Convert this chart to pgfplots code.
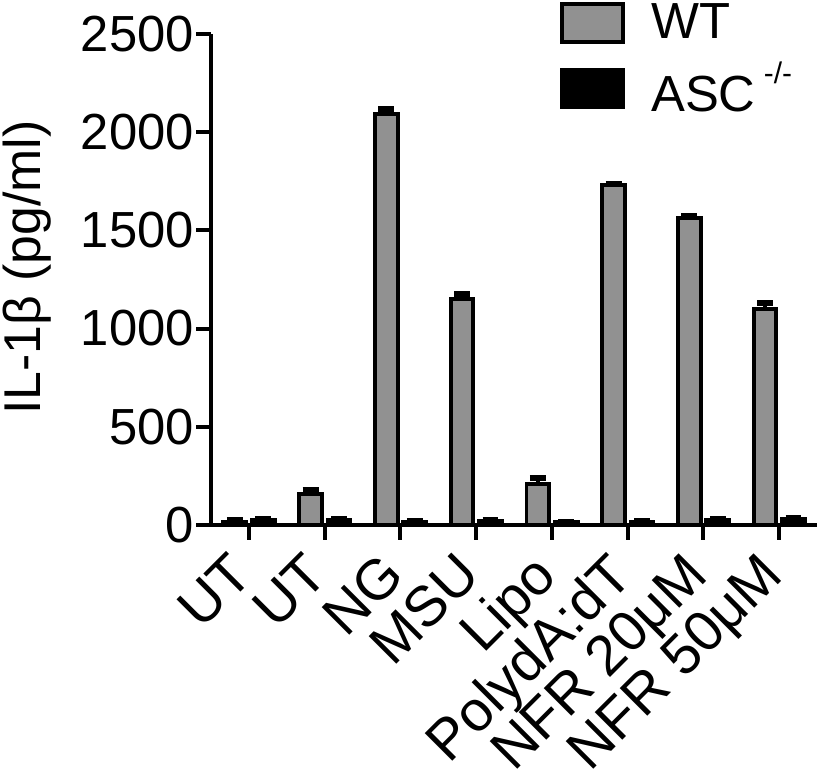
\documentclass[border=0pt]{standalone}
\usepackage{fontspec}
\setmainfont{Liberation Sans}
\usepackage{pgfplots}
\pgfplotsset{compat=1.18}
\definecolor{wtgray}{RGB}{145,145,145}

\pgfplotstableread{
x y e
0 15 8
1 158 20
2 2095 25
3 1152 25
4 208 28
5 1730 4
6 1565 10
7 1100 32
}\wtdata
\pgfplotstableread{
x y e
0 24 5
1 22 5
2 16 4
3 20 5
4 13 3
5 15 3
6 25 5
7 30 6
}\ascdata

\begin{document}
\begin{tikzpicture}
\begin{axis}[
  scale only axis, width=609pt, height=493pt,
  xmin=-0.5, xmax=7.5, ymin=0, ymax=2500,
  axis x line=bottom, axis y line=left,
  axis line style={line width=4pt, -},
  ytick={0,500,...,2500}, xtick={0,...,7},
  xticklabels={UT,UT,NG,MSU,Lipo,PolydA:dT,NFR 20μM,NFR 50μM},
  tick style={line width=4pt, black},
  tick align=outside, major tick length=15pt,
  x tick label style={xshift=-22pt, yshift=-10pt, rotate=45, anchor=north east, inner sep=0pt, font=\fontsize{57}{57}\selectfont},
  y tick label style={font=\fontsize{51}{51}\selectfont, inner sep=2pt},
  /pgf/number format/assume math mode=true,
  /pgf/number format/1000 sep={},
  ylabel={IL-1β (pg/ml)},
  ylabel style={font=\fontsize{52}{52}\selectfont, yshift=24pt, xshift=12pt},
  ybar, bar width=0.30,
  legend style={draw=none, fill=none, at={(rel axis cs:0.57,1.07)}, anchor=north west,
    font=\fontsize{51}{51}\selectfont, row sep=16pt, column sep=24pt, legend cell align=left},
  legend image code/.code={\draw[#1] (0pt,-20pt) rectangle (62pt,18pt);},
  error bars/error bar style={line width=4pt},
  error bars/error mark options={rotate=90, mark size=8pt, line width=6pt},
]
\addplot[fill=wtgray, draw=black, line width=4pt, bar shift=-0.185,
  error bars/.cd, y dir=plus, y explicit] table[x=x, y=y, y error=e]{\wtdata};
\addplot[fill=black, draw=black, line width=4pt, bar shift=0.19,
  error bars/.cd, y dir=plus, y explicit] table[x=x, y=y, y error=e]{\ascdata};
\legend{WT, ASC\,\raisebox{0.55em}{\fontsize{30}{30}\selectfont -/-}}
\end{axis}
\end{tikzpicture}
\end{document}
